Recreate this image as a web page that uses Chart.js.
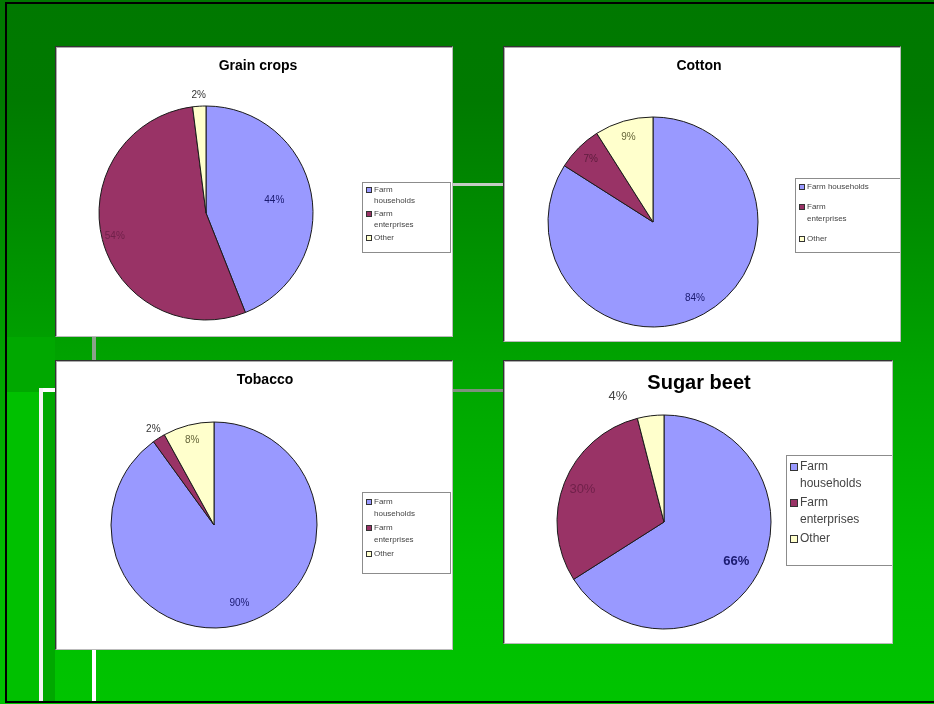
<!DOCTYPE html>
<html>
<head>
<meta charset="utf-8">
<script src="https://cdn.jsdelivr.net/npm/chart.js@4.4.1/dist/chart.umd.min.js"></script>
<style>
  html, body { margin: 0; padding: 0; }
  body {
    width: 934px; height: 704px; position: relative; overflow: hidden;
    background: linear-gradient(#007800 0px, #007a00 100px, #008c00 220px, #00a600 380px, #00bc00 560px, #00c400 704px);
    font-family: "Liberation Sans", Arial, sans-serif;
  }
  .frame { position: absolute; left: 5px; top: 2px; width: 940px; height: 697px;
    border-left: 2px solid #000; border-top: 2px solid #000; border-bottom: 2px solid #000; }
  .strip { position: absolute; }
  .line { position: absolute; }
  .panel { position: absolute; background: #fff; border: 1px solid #333;
    border-right-color: #bbb; border-bottom-color: #bbb; box-shadow: inset 1px 1px 0 #aaa; }
  .panel canvas { position: absolute; left: 0; top: 0; }
</style>
</head>
<body>
<div class="frame"></div>
<div class="strip" style="left:7px; top:337px; width:48px; height:364px; background:#00a800"></div>
<div class="strip" style="left:7px; top:392px; width:32px; height:309px; background:#00c000"></div>

<div class="line" style="left:453px; top:183px; width:50px; height:3px; background:#c4ccc4"></div>
<div class="line" style="left:92px; top:337px; width:4px; height:23px; background:#8aa28a"></div>
<div class="line" style="left:453px; top:389px; width:50px; height:3px; background:#7d907d"></div>
<div class="line" style="left:39px; top:388px; width:16px; height:4px; background:#fff"></div>
<div class="line" style="left:39px; top:388px; width:4px; height:313px; background:#f4f4f4"></div>
<div class="line" style="left:92px; top:650px; width:4px; height:51px; background:#fff"></div>

<div class="panel" style="left:55px; top:46px; width:396px; height:289px"><canvas id="grain"></canvas></div>
<div class="panel" style="left:503px; top:46px; width:396px; height:294px"><canvas id="cotton"></canvas></div>
<div class="panel" style="left:55px; top:360px; width:396px; height:288px"><canvas id="tobacco"></canvas></div>
<div class="panel" style="left:503px; top:360px; width:388px; height:282px"><canvas id="sugar"></canvas></div>

<script>
// data
const categories = ['Farm households', 'Farm enterprises', 'Other']
const grainShares = [44, 54, 2]
const cottonShares = [84, 7, 9]
const tobaccoShares = [90, 2, 8]
const sugarShares = [66, 30, 4]
const sliceColors = ['#9999ff', '#993366', '#ffffcc']

const fontFamily = '"Liberation Sans", Arial, sans-serif'

// titles, percentage labels and the boxed legend
const pieExtras = {
    id: 'pieExtras',
    afterDatasetsDraw(chart, args, o) {
        const ctx = chart.ctx
        const vals = chart.data.datasets[0].data
        const total = vals.reduce((a, b) => a + b, 0)
        const meta = chart.getDatasetMeta(0)

        ctx.save()
        ctx.textAlign = 'center'
        ctx.textBaseline = 'middle'
        ctx.fillStyle = '#000'
        ctx.font = 'bold ' + o.titleSize + 'px ' + fontFamily
        ctx.fillText(o.title, o.titleX, o.titleY)

        meta.data.forEach(function (arc, i) {
            const p = arc.getProps(['x', 'y', 'startAngle', 'endAngle', 'outerRadius'], true)
            const mid = (p.startAngle + p.endAngle) / 2 + (o.labelShift[i] || 0) * Math.PI / 180
            const r = p.outerRadius * o.labelPos[i]
            ctx.font = (o.labelBold[i] ? 'bold ' : '') + o.labelSize + 'px ' + fontFamily
            ctx.fillStyle = o.labelColors[i]
            ctx.fillText(Math.round(vals[i] / total * 100) + '%', p.x + Math.cos(mid) * r, p.y + Math.sin(mid) * r)
        })

        // legend
        const b = o.legend
        ctx.fillStyle = '#fff'
        ctx.fillRect(b.x, b.y, b.w, b.h)
        ctx.strokeStyle = '#8c8c8c'
        ctx.lineWidth = 1
        ctx.strokeRect(b.x + 0.5, b.y + 0.5, b.w, b.h)
        ctx.textAlign = 'left'
        ctx.font = b.size + 'px ' + fontFamily
        let y = b.y + b.first
        chart.data.labels.forEach(function (label, i) {
            const lines = b.wrap[i] ? label.split(' ') : [label]
            ctx.fillStyle = sliceColors[i]
            ctx.fillRect(b.x + 4, y - b.box / 2, b.box, b.box)
            ctx.strokeStyle = '#333'
            ctx.strokeRect(b.x + 4.5, y - b.box / 2 + 0.5, b.box - 1, b.box - 1)
            ctx.fillStyle = '#444'
            lines.forEach(function (line, k) {
                ctx.fillText(line, b.x + 6 + b.box, y + k * b.lh)
            })
            y += lines.length * b.lh + b.gap
        })
        ctx.restore()
    }
}

function createPie(id, values, cfg) {
    const el = document.getElementById(id)
    const panel = el.parentElement
    const W = panel.clientWidth
    const H = panel.clientHeight
    el.width = W
    el.height = H
    el.style.width = W + 'px'
    el.style.height = H + 'px'
    const r = cfg.r
    new Chart(el.getContext('2d'), {
        type: 'pie',
        data: {
            labels: categories,
            datasets: [{
                data: values,
                backgroundColor: sliceColors,
                borderColor: '#1a1a1a',
                borderWidth: 1,
                hoverOffset: 0
            }]
        },
        options: {
            responsive: false,
            animation: false,
            events: [],
            radius: r,
            layout: {
                padding: {
                    left: cfg.cx - r, right: W - cfg.cx - r,
                    top: cfg.cy - r, bottom: H - cfg.cy - r
                }
            },
            plugins: {
                legend: { display: false },
                tooltip: { enabled: false },
                pieExtras: cfg.extras
            }
        },
        plugins: [pieExtras]
    })
}

const smallLegend = { w: 88, size: 8, box: 6, lh: 11, gap: 2, first: 8 }

createPie('grain', grainShares, {
    cx: 150, cy: 166, r: 107,
    extras: {
        title: 'Grain crops', titleSize: 14, titleX: 202, titleY: 19,
        labelSize: 10, labelPos: [0.65, 0.88, 1.1], labelShift: [0, 0, 0], labelBold: [false, false, false],
        labelColors: ['#1a1a70', '#70214a', '#333'],
        legend: Object.assign({}, smallLegend, { x: 306, y: 135, h: 70, wrap: [true, true, false] })
    }
})

createPie('cotton', cottonShares, {
    cx: 149, cy: 175, r: 105,
    extras: {
        title: 'Cotton', titleSize: 14, titleX: 195, titleY: 19,
        labelSize: 10, labelPos: [0.83, 0.84, 0.84], labelShift: [0, 0, 0], labelBold: [false, false, false],
        labelColors: ['#1a1a70', '#5c1c3c', '#66663a'],
        legend: Object.assign({}, smallLegend, { x: 291, y: 131, w: 120, h: 74, lh: 12, gap: 8, first: 9, wrap: [false, true, false] })
    }
})

createPie('tobacco', tobaccoShares, {
    cx: 158, cy: 164, r: 103,
    extras: {
        title: 'Tobacco', titleSize: 14, titleX: 209, titleY: 19,
        labelSize: 10, labelPos: [0.8, 1.1, 0.85], labelShift: [0, 0, 0], labelBold: [false, false, false],
        labelColors: ['#1a1a70', '#333', '#66663a'],
        legend: Object.assign({}, smallLegend, { x: 306, y: 131, h: 81, lh: 12, first: 10, wrap: [true, true, false] })
    }
})

createPie('sugar', sugarShares, {
    cx: 160, cy: 161, r: 107,
    extras: {
        title: 'Sugar beet', titleSize: 20, titleX: 195, titleY: 22,
        labelSize: 13, labelPos: [0.77, 0.82, 1.25], labelShift: [0, 0, -13], labelBold: [true, false, false],
        labelColors: ['#1a1a70', '#70214a', '#444'],
        legend: { x: 282, y: 94, w: 112, h: 110, size: 12, box: 8, lh: 17, gap: 2, first: 12, wrap: [true, true, false] }
    }
})
</script>
</body>
</html>
